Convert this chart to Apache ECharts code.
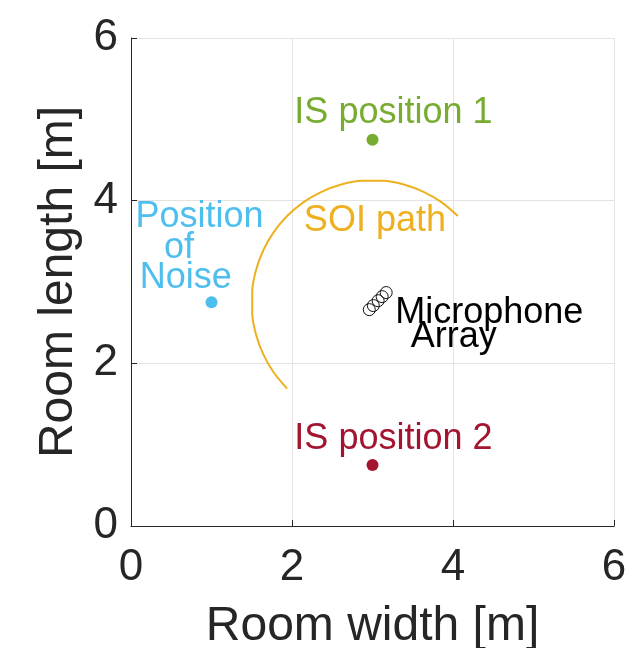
<!DOCTYPE html>
<html>
<head>
<meta charset="utf-8">
<script src="https://cdn.jsdelivr.net/npm/echarts@6/dist/echarts.min.js"></script>
<style>
html,body{margin:0;padding:0;background:#fff;}
#chart{width:627px;height:648px;}
</style>
</head>
<body>
<div id="chart"></div>
<script>
// ---- data ----
const xTicks = [0, 2, 4, 6];
const yTicks = [0, 2, 4, 6];
const isPosition1 = [3, 4.75];
const isPosition2 = [3, 0.75];
const noisePosition = [1, 2.75];
const micX = [2.96, 3.01, 3.07, 3.12, 3.17];
const micY = [2.66, 2.71, 2.77, 2.82, 2.87];
// SOI path: arc of radius 1.5 m around (3, 2.75), from 45° to 225°
const soiX = [4.061, 3.860, 3.634, 3.388, 3.131, 2.869, 2.612, 2.366, 2.140, 1.939,
              1.771, 1.641, 1.551, 1.506, 1.506, 1.551, 1.641, 1.771, 1.939];
const soiY = [3.811, 3.979, 4.109, 4.199, 4.244, 4.244, 4.199, 4.109, 3.979, 3.811,
              3.610, 3.384, 3.138, 2.881, 2.619, 2.362, 2.116, 1.890, 1.689];
const annoText = ['IS position 1', 'IS position 2', 'Position', 'of', 'Noise', 'SOI path', 'Microphone', 'Array'];
const annoX = [3.26, 3.26, 0.85, 0.595, 0.68, 3.03, 4.45, 4.01];
const annoY = [5.11, 1.10, 3.83, 3.46, 3.09, 3.79, 2.66, 2.36];

// ---- styles ----
const GREEN = '#77AC30', RED = '#A2142F', BLUE = '#4DBEEE', ORANGE = '#EDB120', AX = '#262626';
const annoColor = [GREEN, RED, BLUE, BLUE, BLUE, ORANGE, '#000000', '#000000'];
const FONT = '"Liberation Sans", Arial, Helvetica, sans-serif';

const chart = echarts.init(document.getElementById('chart'), null, {renderer: 'canvas'});

const axisCommon = {
  type: 'value', min: 0, max: 6, interval: 2,
  nameLocation: 'middle',
  nameTextStyle: {fontSize: 48, color: AX, fontFamily: FONT},
  axisLine: {show: true, onZero: false, lineStyle: {color: AX, width: 1}},
  axisTick: {show: true, inside: true, length: 6, lineStyle: {color: AX, width: 1}},
  splitLine: {show: true, lineStyle: {color: '#e3e3e3', width: 1}},
  axisLabel: {fontSize: 44, color: AX, fontFamily: FONT}
};

const option = {
  animation: false,
  backgroundColor: '#ffffff',
  grid: {left: 131, right: 13, top: 38, bottom: 122, containLabel: false, outerBoundsMode: 'none'},
  xAxis: Object.assign({}, axisCommon, {
    name: 'Room width [m]', nameGap: 77,
    axisLabel: Object.assign({}, axisCommon.axisLabel, {margin: 20})
  }),
  yAxis: Object.assign({}, axisCommon, {
    name: 'Room length [m]', nameGap: 39,
    axisLabel: Object.assign({}, axisCommon.axisLabel, {margin: 13})
  }),
  series: [
    {
      type: 'line', name: 'SOI path',
      data: soiX.map((x, i) => [x, soiY[i]]),
      smooth: 0.3, showSymbol: false, symbol: 'none',
      lineStyle: {color: ORANGE, width: 2}
    },
    {
      type: 'scatter', name: 'IS position 1', data: [isPosition1],
      symbol: 'circle', symbolSize: 12, itemStyle: {color: GREEN, opacity: 1}
    },
    {
      type: 'scatter', name: 'IS position 2', data: [isPosition2],
      symbol: 'circle', symbolSize: 12, itemStyle: {color: RED, opacity: 1}
    },
    {
      type: 'scatter', name: 'Noise', data: [noisePosition],
      symbol: 'circle', symbolSize: 12, itemStyle: {color: BLUE, opacity: 1}
    },
    {
      type: 'scatter', name: 'Microphone array',
      data: micX.map((x, i) => [x, micY[i]]),
      symbol: 'circle', symbolSize: 12,
      itemStyle: {color: 'rgba(0,0,0,0)', borderColor: '#111111', borderWidth: 1, opacity: 1}
    },
    {
      type: 'scatter', name: 'annotations', silent: true,
      symbolSize: 0.1,
      itemStyle: {color: 'rgba(0,0,0,0)', opacity: 1},
      data: annoText.map((t, i) => ({
        value: [annoX[i], annoY[i]],
        label: {
          show: true, formatter: t, position: 'inside', align: 'center', verticalAlign: 'middle',
          offset: [0, 3],
          fontSize: 36, fontFamily: FONT, color: annoColor[i], opacity: 1
        }
      })),
      z: 10
    }
  ]
};
chart.setOption(option);
</script>
</body>
</html>
